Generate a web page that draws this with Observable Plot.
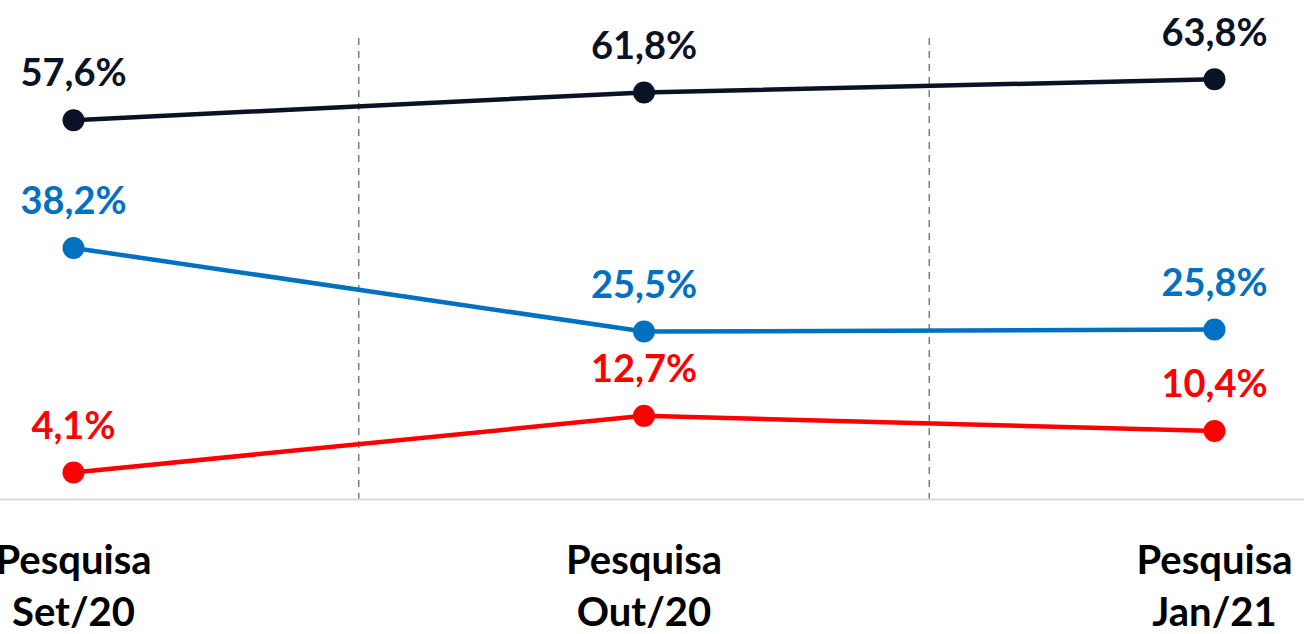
<!DOCTYPE html>
<html>
<head>
<meta charset="utf-8">
<script src="https://cdn.jsdelivr.net/npm/d3@7"></script>
<script src="https://cdn.jsdelivr.net/npm/@observablehq/plot@0.6"></script>
<style>
  html, body { margin: 0; padding: 0; background: #fff; overflow: hidden; }
  svg { display: block; }
</style>
</head>
<body>
<div id="chart"></div>
<script>
const categories = ["Pesquisa\nSet/20", "Pesquisa\nOut/20", "Pesquisa\nJan/21"];
const seriesNames = ["Série A", "Série B", "Série C"];
const seriesA = [57.6, 61.8, 63.8];
const seriesB = [38.2, 25.5, 25.8];
const seriesC = [4.1, 12.7, 10.4];
const seriesColors = ["#0b1225", "#0070c0", "#ff0000"];

const allSeries = [seriesA, seriesB, seriesC];
const rows = [];
allSeries.forEach((vals, s) => vals.forEach((v, i) => rows.push({series: seriesNames[s], idx: i, value: v})));
const idxs = categories.map((_, i) => i);
const dividers = idxs.slice(0, -1).map(i => i + 0.5);
const fmt = v => v.toFixed(1).replace(".", ",") + "%";
const FONT = "Lato, 'Open Sans', sans-serif";

const chart = Plot.plot({
  width: 1304,
  height: 634,
  marginTop: 38,
  marginBottom: 135,
  marginLeft: 0,
  marginRight: 0,
  x: {type: "linear", domain: [0, categories.length - 1], range: [73, 1214], axis: null},
  y: {domain: [0, 70], axis: null},
  color: {domain: seriesNames, range: seriesColors},
  style: {fontFamily: FONT, background: "#fff"},
  marks: [
    Plot.ruleX(dividers, {x: d => d, stroke: "#7f7f7f", strokeWidth: 1.5, strokeDasharray: "7,6"}),
    Plot.ruleY([0], {stroke: "#d9d9d9", strokeWidth: 2}),
    Plot.line(rows, {x: "idx", y: "value", z: "series", stroke: "series", strokeWidth: 4.5}),
    Plot.dot(rows, {x: "idx", y: "value", fill: "series", r: 11}),
    Plot.text(rows, {x: "idx", y: "value", text: d => fmt(d.value), fill: "series", dy: -46, fontSize: 38, fontWeight: "bold"}),
    Plot.text(idxs, {x: d => d, y: 0, text: i => categories[i], lineAnchor: "top", dy: 38, lineHeight: 1.3, fontSize: 40, fontWeight: "bold", fill: "#000"})
  ]
});
document.getElementById("chart").appendChild(chart);
</script>
</body>
</html>
